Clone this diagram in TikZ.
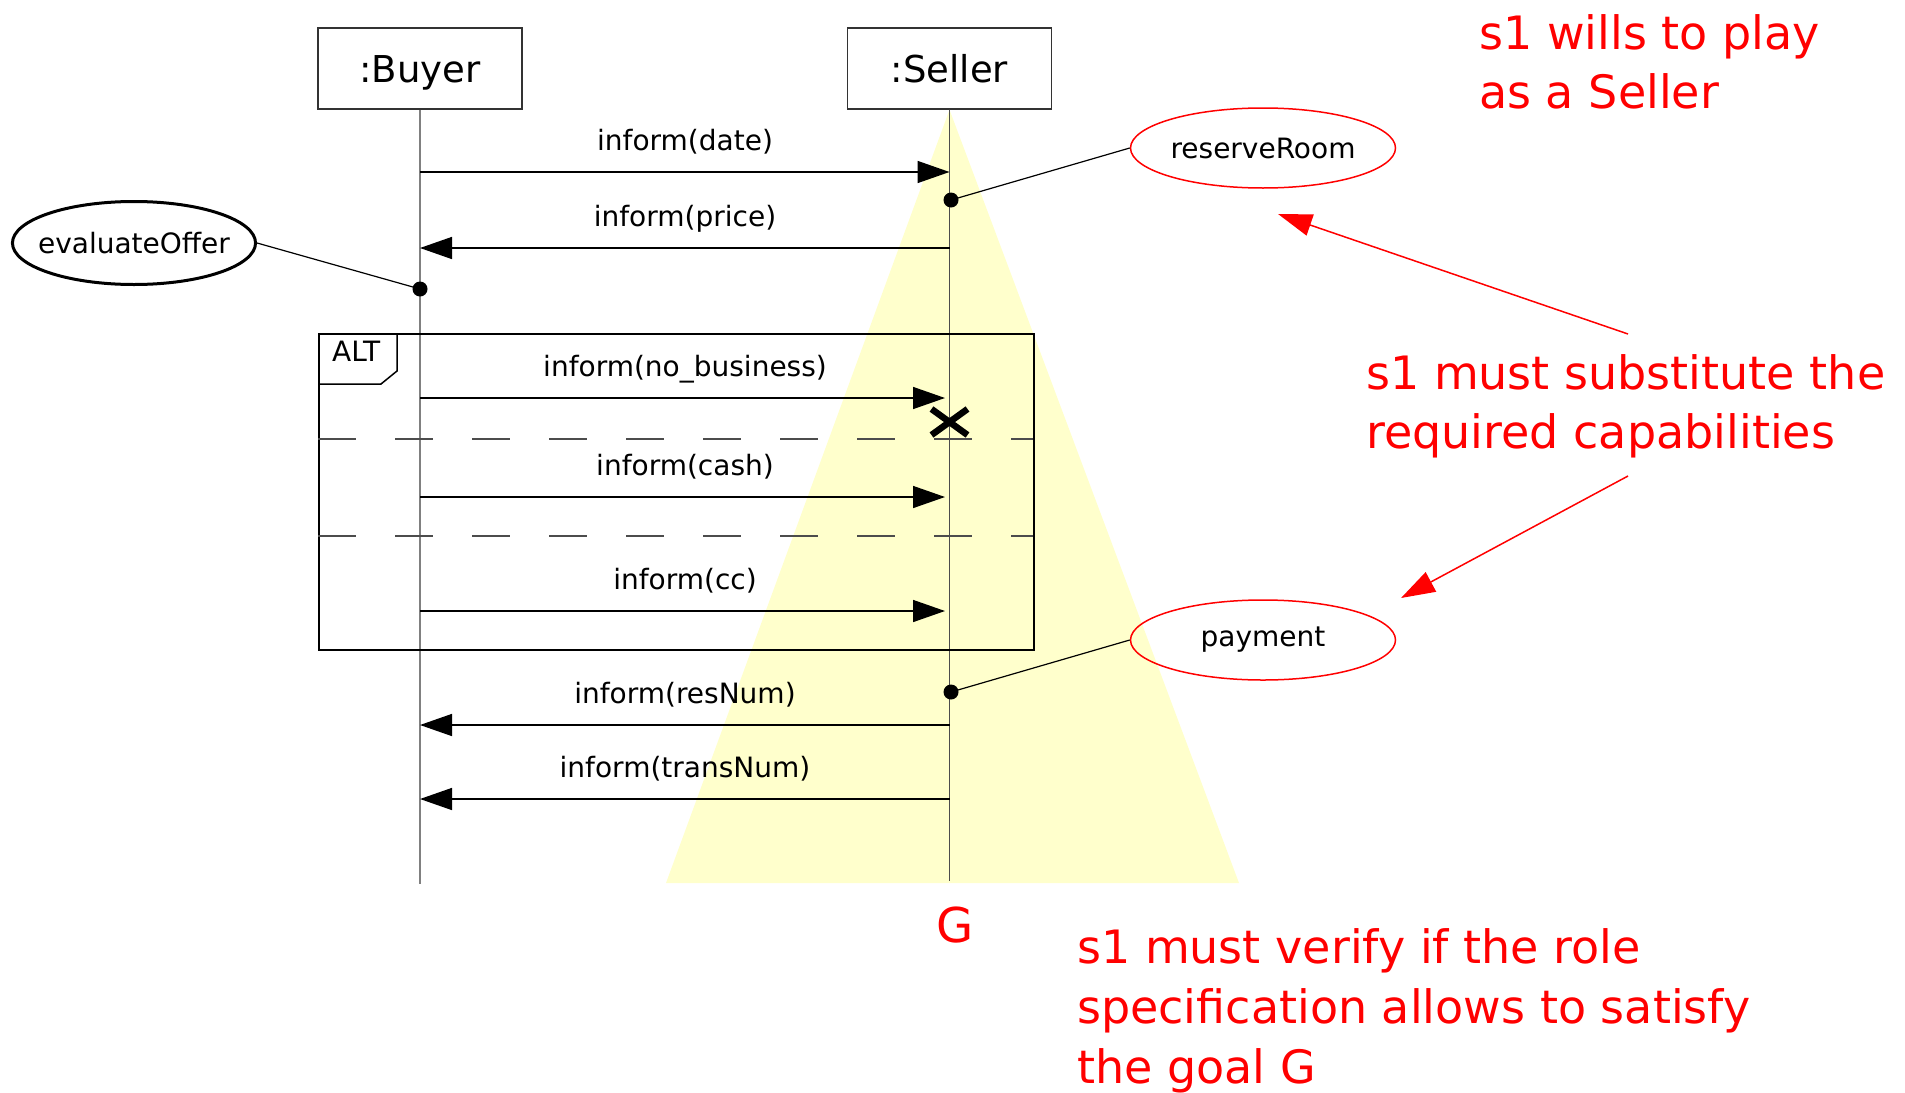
\documentclass[tikz,border=0pt]{standalone}
\usepackage{fontspec}
\setmainfont{DejaVu Sans}
\usetikzlibrary{arrows.meta,shapes.geometric}
\definecolor{hl}{RGB}{255,255,204}
\begin{document}
\begin{tikzpicture}[x=1pt,y=-1pt,
  every node/.style={inner sep=0pt},
  obj/.style={draw=black!80, line width=1.5pt, minimum width=204pt, minimum height=81pt, text height=32pt, text depth=5pt, font=\fontsize{37}{42}\selectfont},
  lbl/.style={font=\fontsize{28}{32}\selectfont, anchor=base},
  msg/.style={draw=black, line width=1.5pt, -{Triangle[length=32pt,width=22pt]}},
  life/.style={draw=black!50, line width=1.5pt},
  capab/.style={ellipse, draw=red, line width=1.5pt, minimum width=265pt, minimum height=80pt, font=\fontsize{28}{32}\selectfont},
  redtxt/.style={text=red, font=\fontsize{46}{56}\selectfont, anchor=base west},
  dotm/.style={circle, fill=black, minimum size=15pt},
  link/.style={draw=black, line width=1.2pt},
  redarrow/.style={draw=red, line width=1.5pt, -{Triangle[length=34pt,width=22pt]}},
  dashsep/.style={draw=black!70, line width=1.5pt, dash pattern=on 38pt off 39pt},
]
\useasboundingbox (0,0) rectangle (1905,1092);

% objects
\node[obj] (buyer) at (420,68.5) {:Buyer};
\node[obj] (seller) at (949.5,68.5) {:Seller};
\coordinate (buyerEnd) at (420,884);
\coordinate (sellerEnd) at (949.5,881);
\coordinate (baseL) at (666,883);
\coordinate (baseR) at (1239,883);

% goal highlight
\fill[hl] (seller.south) -- (baseL) -- (baseR) -- cycle;

% lifelines
\draw[life] (buyer.south) -- (buyerEnd);
\draw[draw=black!70, line width=1.2pt] (seller.south) -- (sellerEnd);

% ALT frame
\node[draw=black, line width=1.5pt, minimum width=715pt, minimum height=316pt, anchor=north west] (alt) at (318,333) {};
\draw[line width=1.5pt] (318,384) -- (381,384) -- (397,371) -- (397,333);
\node[lbl, anchor=base west] (altlbl) at (332,361) {ALT};
\draw[dashsep] (318,439) -- (1033,439);
\draw[dashsep] (318,536) -- (1033,536);

% messages
\coordinate (b1) at (420,172); \coordinate (s1) at (949.5,172);
\draw[msg] (b1) -- (s1);
\node[lbl] (m1) at (685,150) {inform(date)};

\coordinate (b2) at (420,248); \coordinate (s2) at (949.5,248);
\draw[msg] (s2) -- (b2);
\node[lbl] (m2) at (685,226) {inform(price)};

\coordinate (b3) at (420,398); \coordinate (s3) at (945,398);
\draw[msg] (b3) -- (s3);
\node[lbl] (m3) at (685,376) {inform(no\_business)};

\coordinate (xm) at (949.5,422);
\draw[line width=6.5pt] (xm) ++(-18,-13) -- ++(36,26);
\draw[line width=6.5pt] (xm) ++(-18,13) -- ++(36,-26);

\coordinate (b4) at (420,497); \coordinate (s4) at (945,497);
\draw[msg] (b4) -- (s4);
\node[lbl] (m4) at (685,475) {inform(cash)};

\coordinate (b5) at (420,611); \coordinate (s5) at (945,611);
\draw[msg] (b5) -- (s5);
\node[lbl] (m5) at (685,589) {inform(cc)};

\coordinate (b6) at (420,725); \coordinate (s6) at (949.5,725);
\draw[msg] (s6) -- (b6);
\node[lbl] (m6) at (685,703) {inform(resNum)};

\coordinate (b7) at (420,799); \coordinate (s7) at (949.5,799);
\draw[msg] (s7) -- (b7);
\node[lbl] (m7) at (685,777) {inform(transNum)};

% capabilities
\node[capab] (reserve) at (1263,148) {reserveRoom};
\node[capab] (payment) at (1263,640) {payment};
\node[ellipse, draw=black, line width=3pt, inner xsep=-10pt, minimum height=83pt, font=\fontsize{28}{32}\selectfont] (eval) at (134,243) {evaluateOffer};

\node[dotm] (d1) at (951,200) {};
\node[dotm] (d2) at (420,289) {};
\node[dotm] (d3) at (951,692) {};
\draw[link] (reserve.west) -- (d1.center);
\draw[link] (eval.east) -- (d2.center);
\draw[link] (payment.west) -- (d3.center);

% annotations
\node[redtxt] (t1a) at (1479,49) {s1 wills to play};
\node[redtxt] (t1b) at (1479,108) {as a Seller};
\node[redtxt] (t2a) at (1366,389) {s1 must substitute the};
\node[redtxt] (t2b) at (1366,448) {required capabilities};
\node[redtxt] (t3a) at (1077,963) {s1 must verify if the role};
\node[redtxt] (t3b) at (1077,1023) {specification allows to satisfy};
\node[redtxt] (t3c) at (1077,1083) {the goal G};
\node[text=red, font=\fontsize{48}{56}\selectfont, anchor=base] (goal) at (955,942) {G};

\coordinate (ra1) at (1628,334); \coordinate (re1) at (1278,214);
\coordinate (ra2) at (1628,476); \coordinate (re2) at (1401,598);
\draw[redarrow] (ra1) -- (re1);
\draw[redarrow] (ra2) -- (re2);
\end{tikzpicture}
\end{document}
